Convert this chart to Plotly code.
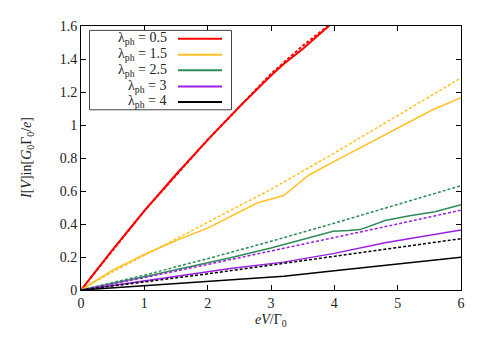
import plotly.graph_objects as go

# ---- data ----
lam_labels = ["0.5", "1.5", "2.5", "3", "4"]
colors = ["#ff0000", "#ffc125", "#2e8b57", "#9b1fe0", "#000000"]

red_x = [0, 0.5, 1, 1.5, 2, 2.5, 3, 3.2, 3.5, 4]
red_y = [0, 0.245, 0.48, 0.70, 0.91, 1.11, 1.30, 1.37, 1.46, 1.63]
red_dx = [0, 1, 2, 3, 3.5, 4.1]
red_dy = [0, 0.48, 0.91, 1.31, 1.48, 1.66]

yel_x = [0, 0.5, 1, 1.5, 2, 2.36, 2.78, 3.2, 3.6, 4, 4.5, 5, 5.56, 6]
yel_y = [0, 0.12, 0.215, 0.30, 0.375, 0.444, 0.527, 0.573, 0.697, 0.78, 0.88, 0.98, 1.094, 1.166]
yel_dx = [0, 0.5, 1, 2, 3, 4, 5, 6]
yel_dy = [0, 0.11, 0.21, 0.41, 0.61, 0.83, 1.06, 1.285]

grn_x = [0, 1, 2, 2.36, 3, 3.98, 4.22, 4.41, 4.8, 5.19, 5.59, 6]
grn_y = [0, 0.08, 0.165, 0.195, 0.255, 0.356, 0.36, 0.366, 0.421, 0.45, 0.474, 0.517]
grn_dx = [0, 1, 2, 3, 4, 5, 6]
grn_dy = [0, 0.09, 0.19, 0.295, 0.405, 0.52, 0.632]

pur_x = [0, 1, 2, 2.36, 3.2, 4, 4.8, 6]
pur_y = [0, 0.055, 0.11, 0.13, 0.169, 0.222, 0.287, 0.364]
pur_dx = [0, 1, 2, 3, 4, 5, 6]
pur_dy = [0, 0.075, 0.155, 0.235, 0.318, 0.40, 0.484]

blk_x = [0, 1, 2, 3, 3.2, 4, 5, 6]
blk_y = [0, 0.026, 0.052, 0.078, 0.084, 0.117, 0.157, 0.198]
blk_dx = [0, 1, 2, 3, 4, 5, 6]
blk_dy = [0, 0.048, 0.098, 0.151, 0.204, 0.258, 0.311]

solid = [(red_x, red_y), (yel_x, yel_y), (grn_x, grn_y), (pur_x, pur_y), (blk_x, blk_y)]
dashed = [(red_dx, red_dy), (yel_dx, yel_dy), (grn_dx, grn_dy), (pur_dx, pur_dy), (blk_dx, blk_dy)]
widths = [2, 1.5, 1.5, 1.5, 1.5]

x_ticks = [0, 1, 2, 3, 4, 5, 6]
y_ticks = [0, 0.2, 0.4, 0.6, 0.8, 1, 1.2, 1.4, 1.6]
y_tick_text = ["0", "0.2", "0.4", "0.6", "0.8", "1", "1.2", "1.4", "1.6"]

FONT = "Liberation Serif"
TXT = "#222222"

fig = go.Figure()
for i in range(5):
    fig.add_trace(go.Scatter(x=dashed[i][0], y=dashed[i][1], mode="lines",
                             line=dict(color=colors[i], width=widths[i], dash="3px,2px"),
                             showlegend=False, hoverinfo="skip"))
    fig.add_trace(go.Scatter(x=solid[i][0], y=solid[i][1], mode="lines",
                             line=dict(color=colors[i], width=widths[i]),
                             showlegend=False, hoverinfo="skip"))

# page body has an 8px margin; compensate so the plot lands where the reference has it
OFF = 8
W, H = 491 - OFF, 343 - OFF
L, R, T, B = 81 - OFF, 30, 19 - OFF, 53
pw, ph = W - L - R, H - T - B

def px_x(px):
    return (px - OFF - L) / pw

def px_y(py):
    return (H + OFF - B - py) / ph

axis_common = dict(showgrid=False, zeroline=False, showline=True, linecolor="black",
                   linewidth=1, mirror="ticks", ticks="inside", ticklen=5,
                   tickcolor="black", tickfont=dict(family=FONT, size=14, color=TXT))

fig.update_layout(
    width=W, height=H,
    margin=dict(l=L, r=R, t=T, b=B),
    plot_bgcolor="white", paper_bgcolor="white",
    font=dict(family=FONT, size=14, color=TXT),
    xaxis=dict(range=[0, 6], tickvals=x_ticks, **axis_common),
    yaxis=dict(range=[0, 1.6], tickvals=y_ticks, ticktext=y_tick_text, **axis_common),
    showlegend=False,
)

# axis titles
fig.add_annotation(x=0.5, y=px_y(332), xref="paper", yref="paper",
                   text="<i>eV</i>/Γ<sub>0</sub>", showarrow=False,
                   font=dict(family=FONT, size=14, color=TXT))
fig.add_annotation(x=px_x(17), y=px_y(155), xref="paper", yref="paper",
                   text="<i>I</i>[<i>V</i>]in[<i>G</i><sub>0</sub>Γ<sub>0</sub>/<i>e</i>]",
                   textangle=-90, showarrow=False,
                   font=dict(family=FONT, size=14, color=TXT))

# legend box
fig.add_shape(type="rect", xref="paper", yref="paper",
              x0=px_x(89.5), x1=px_x(231.5), y0=px_y(105), y1=px_y(23.5),
              line=dict(color="#444", width=1), fillcolor="white", layer="above")
rows = [32, 48.5, 64.5, 81, 97]
for i in range(5):
    fig.add_annotation(x=px_x(169), y=px_y(rows[i]), xref="paper", yref="paper",
                       text="λ<sub>ph</sub> = " + lam_labels[i], showarrow=False,
                       xanchor="right", yanchor="middle",
                       font=dict(family=FONT, size=14, color=TXT))
    fig.add_shape(type="line", xref="paper", yref="paper",
                  x0=px_x(178), x1=px_x(222), y0=px_y(rows[i]), y1=px_y(rows[i]),
                  line=dict(color=colors[i], width=2), layer="above")

fig.write_html("out.html")
